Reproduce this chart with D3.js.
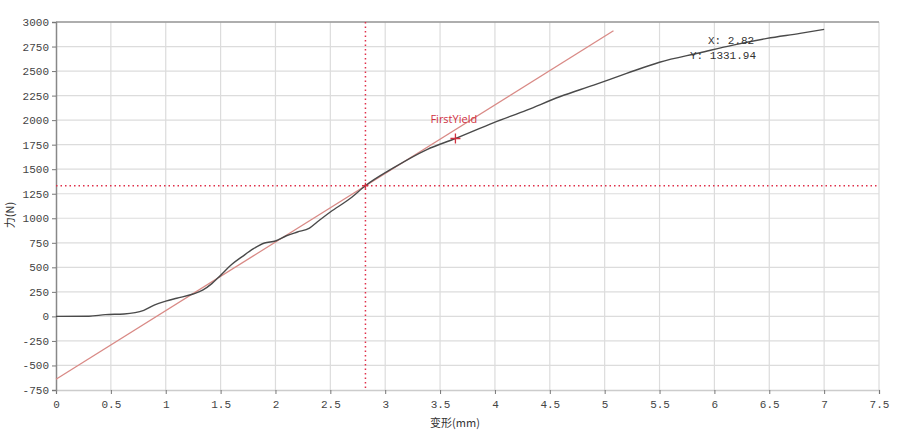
<!DOCTYPE html>
<html><head><meta charset="utf-8">
<script src="https://cdn.jsdelivr.net/npm/d3@7"></script>
<style>body{margin:0;background:#fff}svg{display:block}</style>
</head><body>
<svg id="c" width="900" height="438"></svg>
<script>
const xTicks = [0,0.5,1,1.5,2,2.5,3,3.5,4,4.5,5,5.5,6,6.5,7,7.5];
const yTicks = [-750,-500,-250,0,250,500,750,1000,1250,1500,1750,2000,2250,2500,2750,3000];
const curveX = [0,0.3,0.45,0.62,0.8,0.9,1.0,1.1,1.25,1.34,1.42,1.5,1.6,1.7,1.8,1.9,2.0,2.1,2.2,2.31,2.38,2.5,2.68,2.82,3.07,3.38,3.64,3.99,4.29,4.59,4.9,5.2,5.5,5.87,6.17,6.48,6.78,7.0];
const curveY = [0,2,18,25,62,118,155,185,228,270,334,418,528,612,690,748,768,822,860,900,962,1064,1201,1332,1510,1700,1813,1975,2102,2238,2357,2476,2590,2687,2765,2833,2884,2925];
const fitLine = {x:[0,5.08], y:[-640,2911]};
const yieldPt = {x:3.64, y:1813, label:"FirstYield"};
const cursor = {x:2.82, y:1331.94};
const xLabel = "变形(mm)", yLabel = "力(N)";

const svg = d3.select("#c");
const L=56,R=879,T=22,B=390;
const x = d3.scaleLinear().domain([0,7.5]).range([L,R]);
const y = d3.scaleLinear().domain([-750,3000]).range([B,T]);
const font = "'Liberation Mono', 'DejaVu Sans Mono', monospace";

// grid
svg.append("g").selectAll("line").data(xTicks.slice(1)).join("line")
  .attr("x1",d=>x(d)).attr("x2",d=>x(d)).attr("y1",T).attr("y2",B)
  .attr("stroke","#dcdcdc").attr("stroke-width",1.2);
svg.append("g").selectAll("line").data(yTicks.slice(1)).join("line")
  .attr("x1",L).attr("x2",R).attr("y1",d=>y(d)).attr("y2",d=>y(d))
  .attr("stroke","#dcdcdc").attr("stroke-width",1.2);
// top border
svg.append("line").attr("x1",L).attr("x2",R).attr("y1",T).attr("y2",T).attr("stroke","#999").attr("stroke-width",1.5);

// axes
const xa = svg.append("g").attr("transform",`translate(0,${B})`)
  .call(d3.axisBottom(x).tickValues(xTicks).tickFormat(d=>String(d)).tickSize(4).tickPadding(6));
const ya = svg.append("g").attr("transform",`translate(${L},0)`)
  .call(d3.axisLeft(y).tickValues(yTicks).tickFormat(d=>String(d)).tickSize(4).tickPadding(3));
[xa,ya].forEach(g=>{
  g.select(".domain").attr("stroke","#888").attr("stroke-width",1.5);
  g.selectAll(".tick line").attr("stroke","#777");
  g.selectAll("text").attr("fill","#444").style("font-family",font).style("font-size","11px");
});
xa.select(".domain").attr("stroke","#ccc");

// labels
svg.append("text").attr("x",455).attr("y",427).attr("text-anchor","middle")
  .style("font-family","'Noto Sans CJK SC', sans-serif").style("font-size","11px").attr("fill","#333").text(xLabel);
svg.append("text").attr("transform","translate(14,215) rotate(-90)").attr("text-anchor","middle")
  .style("font-family","'Noto Sans CJK SC', sans-serif").style("font-size","11px").attr("fill","#333").text(yLabel);

// fit line
svg.append("line").attr("x1",x(fitLine.x[0])).attr("y1",y(fitLine.y[0]))
  .attr("x2",x(fitLine.x[1])).attr("y2",y(fitLine.y[1]))
  .attr("stroke","#d98a86").attr("stroke-width",1.3);

// curve
const pts = curveX.map((v,i)=>[v,curveY[i]]);
svg.append("path").datum(pts)
  .attr("d",d3.line().x(d=>x(d[0])).y(d=>y(d[1])).curve(d3.curveMonotoneX))
  .attr("fill","none").attr("stroke","#4a4a4a").attr("stroke-width",1.4);

// cursor lines
svg.append("line").attr("x1",x(cursor.x)).attr("x2",x(cursor.x)).attr("y1",T).attr("y2",B)
  .attr("stroke","#e0304a").attr("stroke-width",1.5).attr("stroke-dasharray","1.5,3");
svg.append("line").attr("x1",L).attr("x2",R).attr("y1",y(cursor.y)).attr("y2",y(cursor.y))
  .attr("stroke","#e0304a").attr("stroke-width",1.5).attr("stroke-dasharray","1.5,3");

// plus markers
function plus(cx,cy,s){
  svg.append("path").attr("d",`M${cx-s},${cy}H${cx+s}M${cx},${cy-s}V${cy+s}`)
    .attr("stroke","#d0303f").attr("stroke-width",1.3);
}
plus(x(yieldPt.x),y(yieldPt.y),5);
plus(x(cursor.x),y(cursor.y),3);
svg.append("text").attr("x",x(yieldPt.x)-25).attr("y",y(yieldPt.y)-15)
  .style("font-family","'Open Sans', sans-serif").style("font-size","11px").attr("fill","#d0303f").text(yieldPt.label);

// cursor readout
svg.append("text").attr("x",708).attr("y",44).style("font-family",font).style("font-size","11px").attr("fill","#333")
  .text("X: "+cursor.x.toFixed(2));
svg.append("text").attr("x",690).attr("y",59).style("font-family",font).style("font-size","11px").attr("fill","#333")
  .text("Y: "+cursor.y.toFixed(2));
</script>
</body></html>
